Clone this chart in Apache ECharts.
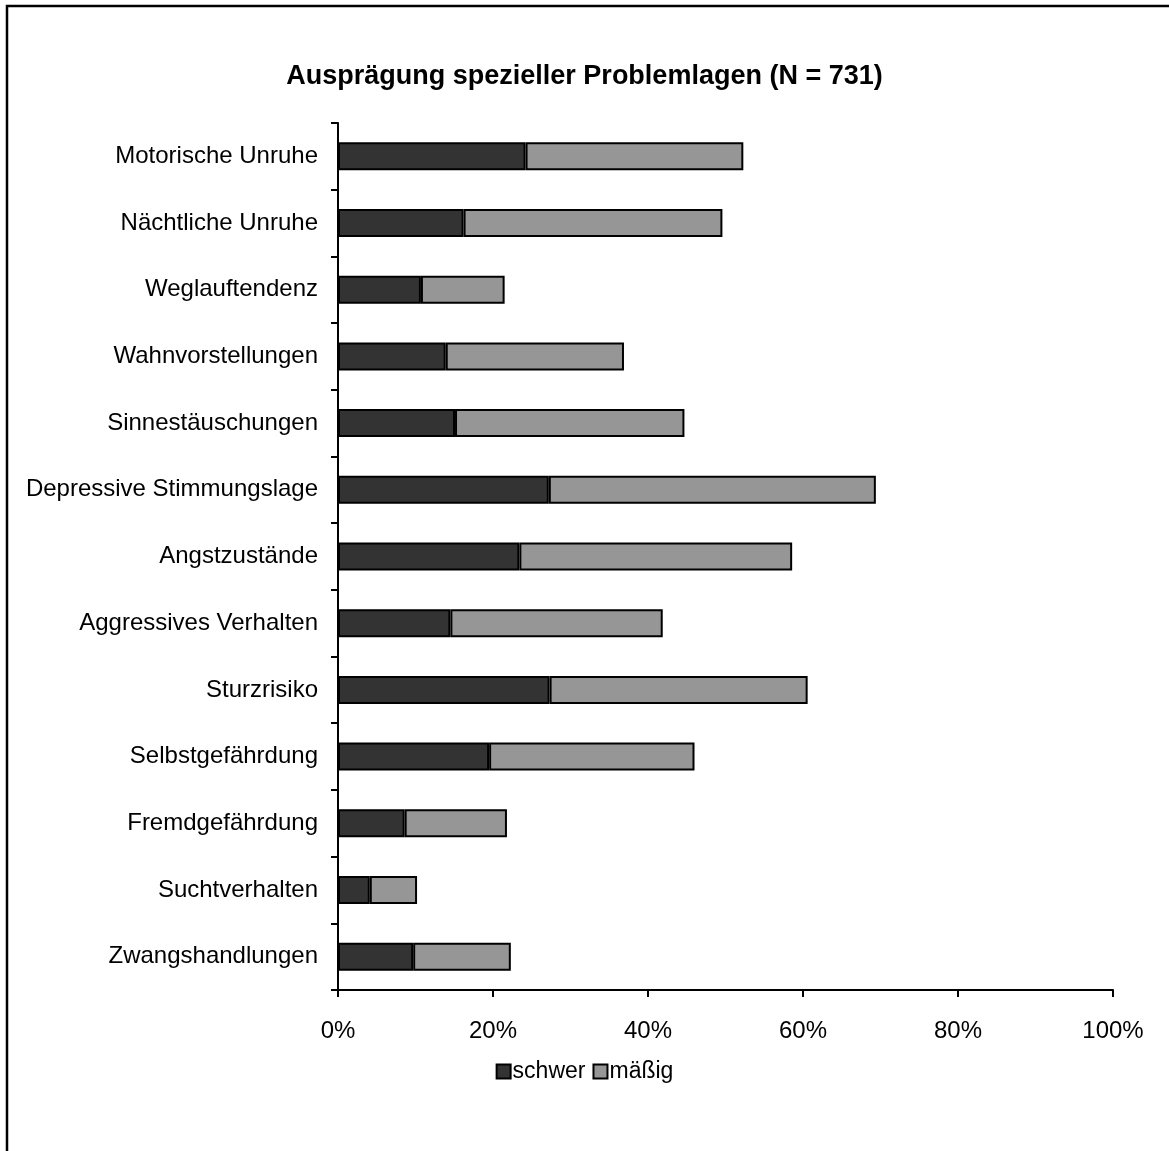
<!DOCTYPE html>
<html>
<head>
<meta charset="utf-8">
<script src="https://cdn.jsdelivr.net/npm/echarts@6/dist/echarts.min.js"></script>
<style>
  html, body { margin: 0; padding: 0; background: #fff; }
  #chart { width: 1169px; height: 1151px; }
</style>
</head>
<body>
<div id="chart"></div>
<script>
// Problem categories, top to bottom as shown
const categories = [
  'Motorische Unruhe',
  'Nächtliche Unruhe',
  'Weglauftendenz',
  'Wahnvorstellungen',
  'Sinnestäuschungen',
  'Depressive Stimmungslage',
  'Angstzustände',
  'Aggressives Verhalten',
  'Sturzrisiko',
  'Selbstgefährdung',
  'Fremdgefährdung',
  'Suchtverhalten',
  'Zwangshandlungen'
];

// Share of residents (%) per severity
const schwer = [24.2, 16.2, 10.7, 13.9, 15.1, 27.2, 23.4, 14.5, 27.3, 19.5, 8.6, 4.1, 9.7];
const maessig = [28.1, 33.4, 10.8, 23.0, 29.6, 42.2, 35.2, 27.4, 33.3, 26.5, 13.2, 6.1, 12.6];

const seriesNames = ['schwer', 'mäßig'];
const chartTitle = 'Ausprägung spezieller Problemlagen (N = 731)';

const FONT = '"Liberation Sans", Arial, sans-serif';

const chart = echarts.init(document.getElementById('chart'), null, { renderer: 'canvas' });

const barStyle = (color) => ({
  color: color,
  borderColor: '#000',
  borderWidth: 2
});

chart.setOption({
  animation: false,
  backgroundColor: '#fff',
  textStyle: { fontFamily: FONT },
  title: {
    text: chartTitle,
    left: 'center',
    top: 58,
    textStyle: { fontFamily: FONT, fontSize: 27, fontWeight: 'bold', color: '#000' }
  },
  legend: {
    data: seriesNames,
    left: 'center',
    top: 1055,
    itemWidth: 14,
    itemHeight: 14,
    itemGap: 7,
    icon: 'rect',
    textStyle: { fontFamily: FONT, fontSize: 23, color: '#000', padding: [0, 0, 0, -3] }
  },
  grid: {
    left: 338,
    right: 56,
    top: 123,
    bottom: 161,
    containLabel: false
  },
  xAxis: {
    type: 'value',
    min: 0,
    max: 100,
    interval: 20,
    axisLine: { show: true, lineStyle: { color: '#000', width: 2 } },
    axisTick: { show: true, length: 7, inside: false, lineStyle: { color: '#000', width: 2 } },
    axisLabel: {
      formatter: '{value}%',
      fontFamily: FONT,
      fontSize: 24,
      color: '#000',
      margin: 29
    },
    splitLine: { show: false }
  },
  yAxis: {
    type: 'category',
    data: categories,
    inverse: true,
    axisLine: { show: true, lineStyle: { color: '#000', width: 2 } },
    axisTick: { show: true, length: 7, alignWithLabel: false, lineStyle: { color: '#000', width: 2 } },
    axisLabel: {
      fontFamily: FONT,
      fontSize: 24,
      color: '#000',
      margin: 20
    },
    splitLine: { show: false }
  },
  series: [
    {
      name: seriesNames[0],
      type: 'bar',
      stack: 'total',
      data: schwer,
      barWidth: 28,
      itemStyle: barStyle('#333333')
    },
    {
      name: seriesNames[1],
      type: 'bar',
      stack: 'total',
      data: maessig,
      barWidth: 28,
      itemStyle: barStyle('#969696')
    }
  ],
  graphic: [
    {
      type: 'polyline',
      shape: { points: [[7, 1160], [7, 6], [1180, 6]] },
      style: { stroke: '#000', lineWidth: 2.5, fill: null },
      silent: true
    }
  ]
});
</script>
</body>
</html>
